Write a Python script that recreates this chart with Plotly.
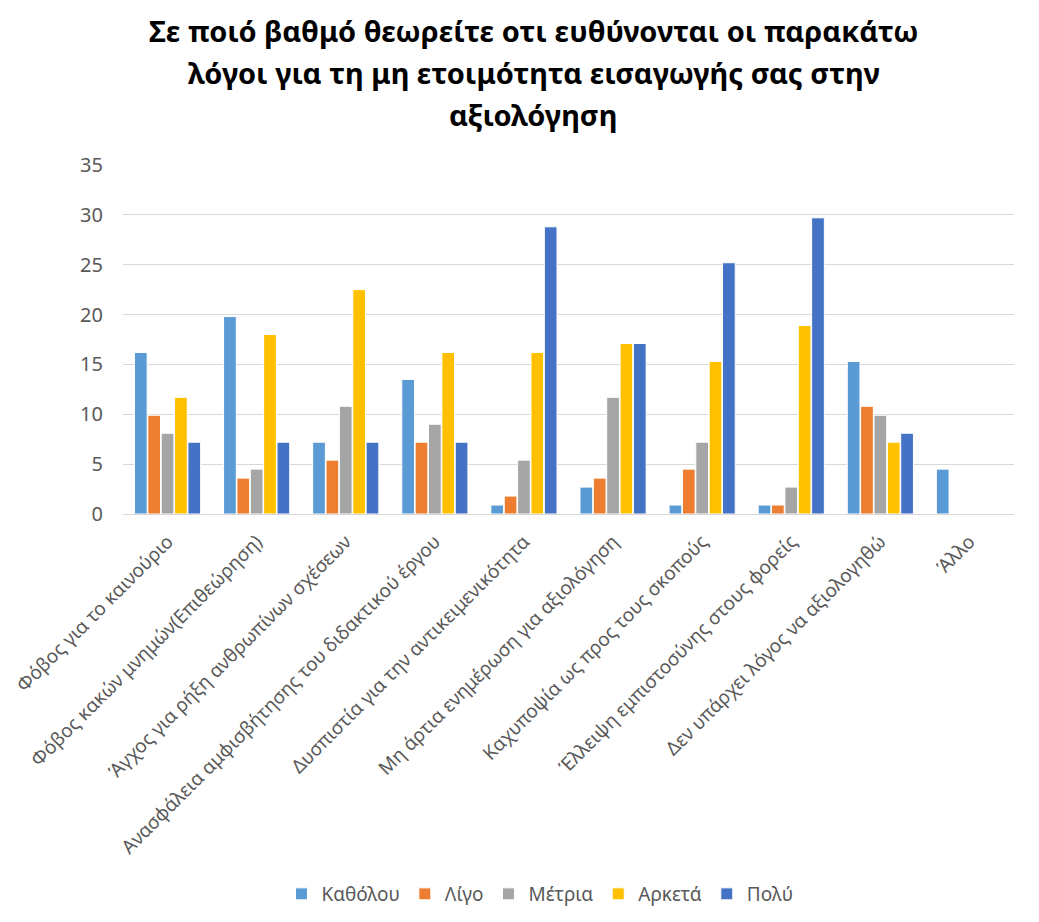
import plotly.graph_objects as go

categories = [
    "Φόβος για το καινούριο",
    "Φόβος κακών μνημών(Επιθεώρηση)",
    "Άγχος για ρήξη ανθρωπίνων σχέσεων",
    "Ανασφάλεια αμφισβήτησης του διδακτικού έργου",
    "Δυσπιστία για την αντικειμενικότητα",
    "Μη άρτια ενημέρωση για αξιολόγηση",
    "Καχυποψία ως προς τους σκοπούς",
    "Έλλειψη εμπιστοσύνης στους φορείς",
    "Δεν υπάρχει λόγος να αξιολογηθώ",
    "Άλλο",
]

katholou = [16.2, 19.8, 7.2, 13.5, 0.9, 2.7, 0.9, 0.9, 15.3, 4.5]
ligo = [9.9, 3.6, 5.4, 7.2, 1.8, 3.6, 4.5, 0.9, 10.8, 0]
metria = [8.1, 4.5, 10.8, 9.0, 5.4, 11.7, 7.2, 2.7, 9.9, 0]
arketa = [11.7, 18.0, 22.5, 16.2, 16.2, 17.1, 15.3, 18.9, 7.2, 0]
poly = [7.2, 7.2, 7.2, 7.2, 28.8, 17.1, 25.2, 29.7, 8.1, 0]

series = [
    ("Καθόλου", katholou, "#5B9BD5"),
    ("Λίγο", ligo, "#ED7D31"),
    ("Μέτρια", metria, "#A5A5A5"),
    ("Αρκετά", arketa, "#FFC000"),
    ("Πολύ", poly, "#4472C4"),
]

title_lines = [
    "Σε ποιό βαθμό θεωρείτε οτι ευθύνονται οι παρακάτω",
    "λόγοι για τη μη ετοιμότητα εισαγωγής σας στην",
    "αξιολόγηση",
]

font_family = "Noto Sans, Open Sans, DejaVu Sans, sans-serif"
text_gray = "#595959"

fig = go.Figure()
for name, values, color in series:
    fig.add_trace(go.Bar(
        name=name,
        x=categories,
        y=values,
        marker=dict(color=color, line=dict(color="white", width=1)),
    ))

# three-line bold heading, one line per annotation for Excel-like spacing
for i, line in enumerate(title_lines):
    fig.add_annotation(
        text=f"<b>{line}</b>",
        xref="paper", yref="paper",
        x=0.461, y=1 + (165 - (30 + 42 * i)) / 350,
        xanchor="center", yanchor="middle",
        showarrow=False,
        font=dict(family=font_family, size=29, color="#000000"),
    )

fig.update_layout(
    width=1039,
    height=922,
    paper_bgcolor="white",
    plot_bgcolor="white",
    barmode="group",
    bargap=0.25,
    bargroupgap=0.05,
    margin=dict(l=123, r=25, t=165, b=407),
    font=dict(family=font_family, color=text_gray),
    xaxis=dict(
        tickangle=-45,
        tickfont=dict(size=19, color=text_gray),
        showline=True,
        linecolor="#d9d9d9",
        linewidth=1,
        showgrid=False,
        ticks="",
        ticklabelstandoff=8,
        automargin=False,
    ),
    yaxis=dict(
        range=[0, 35],
        dtick=5,
        tickfont=dict(size=20, color=text_gray),
        showgrid=True,
        gridcolor="#d9d9d9",
        gridwidth=1,
        zeroline=False,
        ticks="",
        ticklabelstandoff=19,
        automargin=False,
    ),
    legend=dict(
        orientation="h",
        x=0.468,
        xanchor="center",
        y=-(894 - 515) / 350,
        yanchor="middle",
        font=dict(size=19, color=text_gray),
        itemwidth=30,
        traceorder="normal",
    ),
)

fig.write_html("out.html")
